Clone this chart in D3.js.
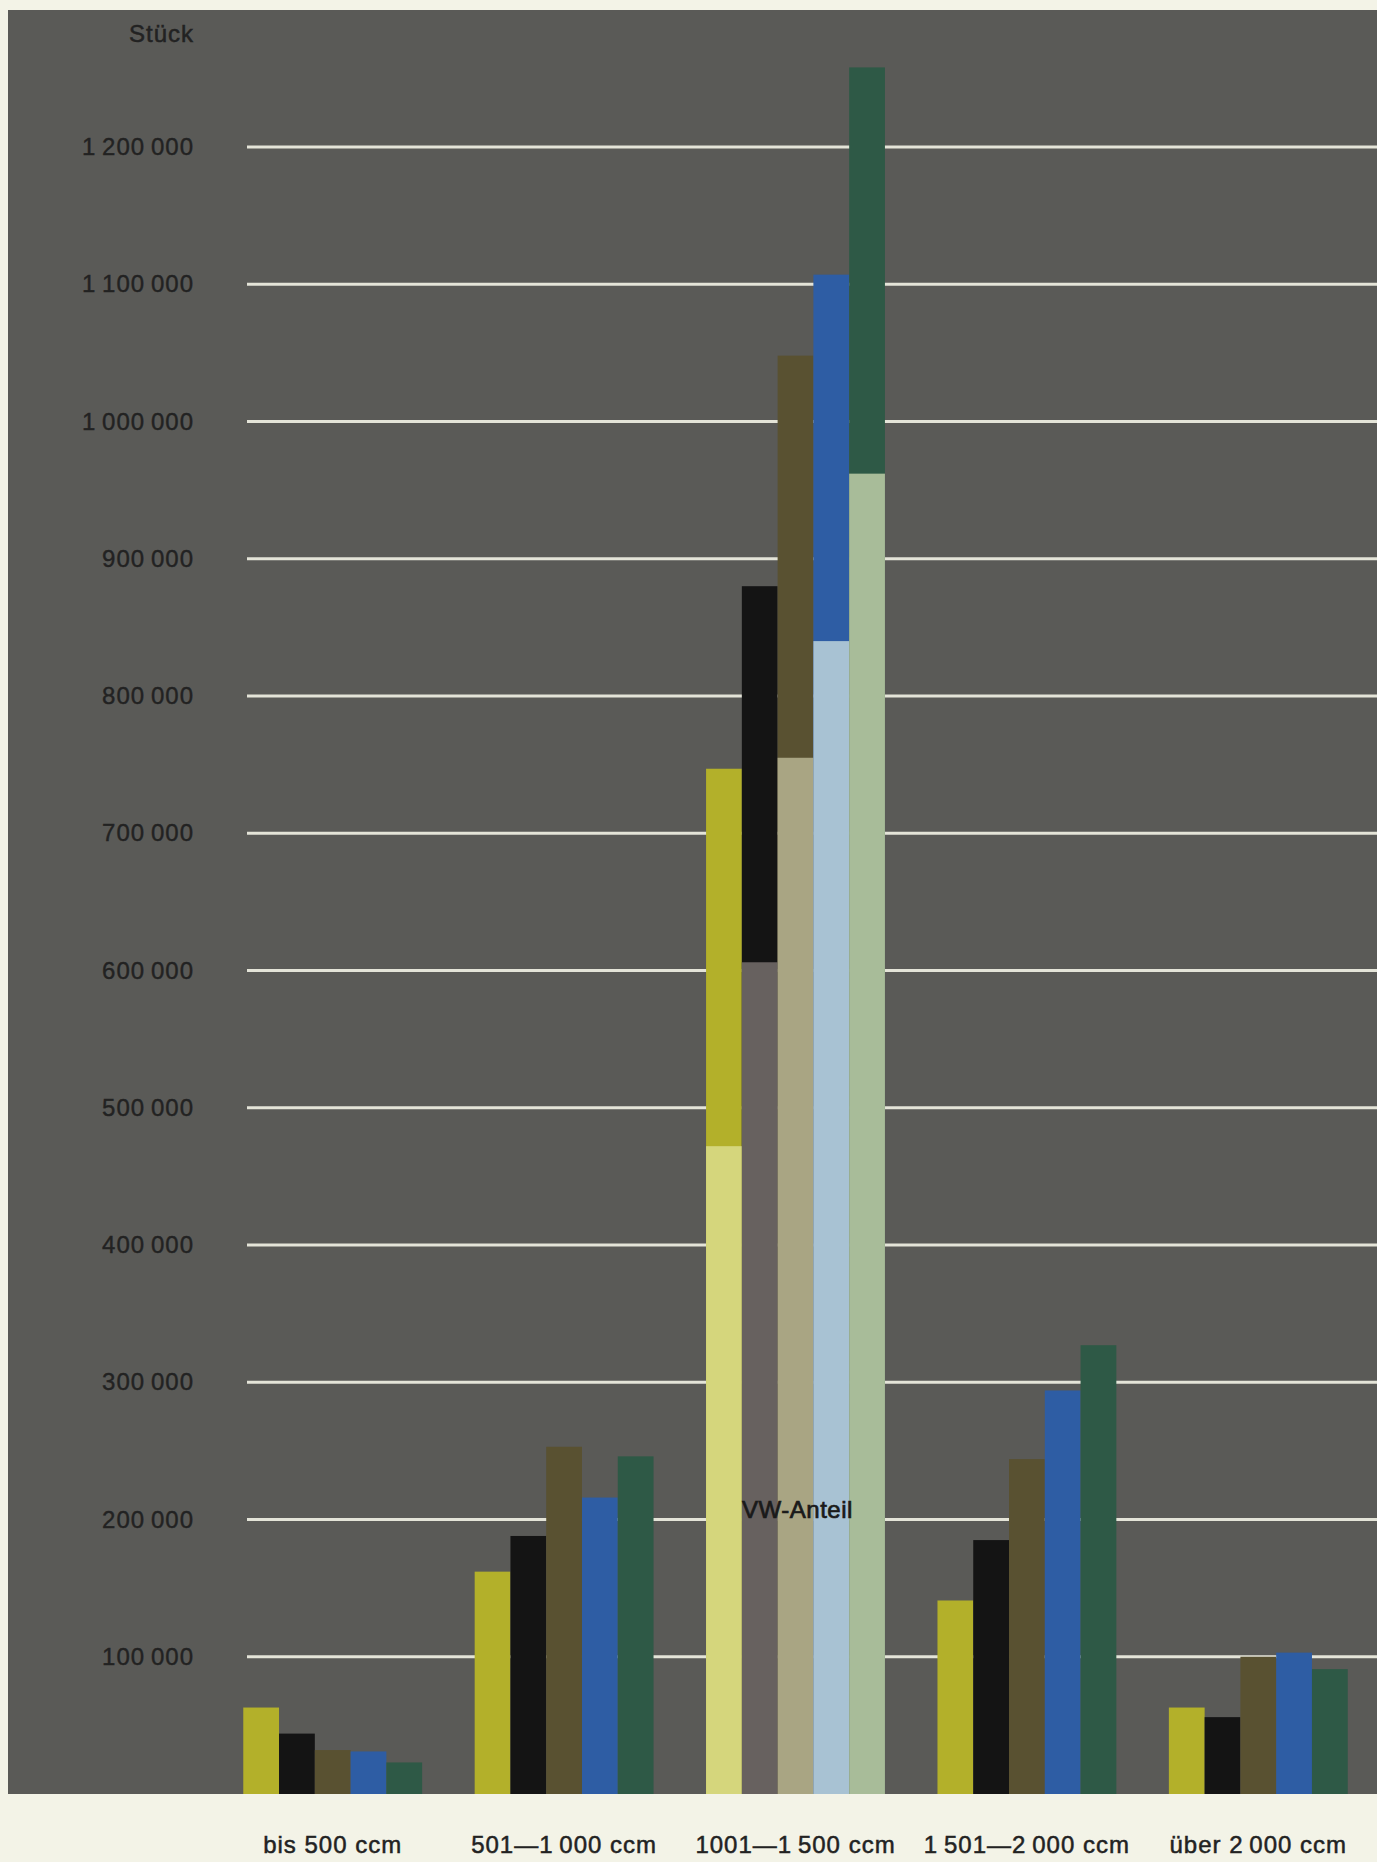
<!DOCTYPE html>
<html>
<head>
<meta charset="utf-8">
<script src="https://cdn.jsdelivr.net/npm/d3@7"></script>
<style>
  body { margin: 0; background: #f3f3e7; }
  text { font-family: "Liberation Sans", Arial, sans-serif; }
</style>
</head>
<body>
<div id="chart"></div>
<script>
// Hubraumklassen
const categories = ["bis 500 ccm", "501\u20141\u2009000 ccm", "1001\u20141\u2009500 ccm", "1\u2009501\u20142\u2009000 ccm", "über 2\u2009000 ccm"];
const seriesNames = ["s1", "s2", "s3", "s4", "s5"];

// Stück pro Klasse, je Reihe
const s1 = [63000, 162000, 747000, 141000, 63000];
const s2 = [44000, 188000, 880000, 185000, 56000];
const s3 = [32000, 253000, 1048000, 244000, 100000];
const s4 = [31000, 216000, 1107000, 294000, 103000];
const s5 = [23000, 246000, 1258000, 327000, 91000];

// VW-Anteil in der Klasse 1001-1500 ccm
const vwCategory = "1001\u20141\u2009500 ccm";
const vwShare = [472000, 606000, 755000, 840000, 962000];

const yTicks = [100000, 200000, 300000, 400000, 500000, 600000, 700000, 800000, 900000, 1000000, 1100000, 1200000];

const colors = ["#b3b02a", "#141414", "#595131", "#2e5da4", "#2e5946"];
const vwColors = ["#d5d67c", "#67615f", "#a9a583", "#a8c2d3", "#a8bc99"];

const seriesValues = [s1, s2, s3, s4, s5];

const W = 1377, H = 1862;
const panel = { left: 8, top: 10, right: 1377, bottom: 1794 };

const svg = d3.select("#chart")
  .append("svg")
  .attr("width", W)
  .attr("height", H);

svg.append("rect")
  .attr("x", panel.left)
  .attr("y", panel.top)
  .attr("width", panel.right - panel.left)
  .attr("height", panel.bottom - panel.top)
  .attr("fill", "#5a5a57");

const x = d3.scaleBand()
  .domain(categories)
  .range([217, 1374])
  .paddingInner(0.227)
  .paddingOuter(0.1135);

const xs = d3.scaleBand()
  .domain(seriesNames)
  .range([0, x.bandwidth()]);

const y = d3.scaleLinear()
  .domain([0, 1200000])
  .range([panel.bottom, 147]);

const fmt = d3.formatLocale({ decimal: ",", thousands: "\u2009", grouping: [3], currency: ["", ""] }).format(",");

// gridlines
svg.append("g")
  .selectAll("line")
  .data(yTicks)
  .enter()
  .append("line")
  .attr("x1", 247)
  .attr("x2", W)
  .attr("y1", (d) => y(d))
  .attr("y2", (d) => y(d))
  .attr("stroke", "#e4e4d8")
  .attr("stroke-width", 3);

// y axis labels
const yAxis = d3.axisLeft(y).tickValues(yTicks).tickFormat(fmt).tickSize(0).tickPadding(0);
const yg = svg.append("g")
  .attr("transform", "translate(194,0)")
  .call(yAxis);
yg.select(".domain").remove();
yg.selectAll("text")
  .attr("fill", "#222")
  .attr("stroke", "#222")
  .attr("stroke-width", 0.4)
  .style("font-size", "24px")
  .style("letter-spacing", "1px")
  .style("font-family", "'Liberation Sans', Arial, sans-serif");

svg.append("text")
  .attr("x", 194)
  .attr("y", 42)
  .attr("text-anchor", "end")
  .attr("fill", "#222")
  .attr("stroke", "#222")
  .attr("stroke-width", 0.5)
  .style("font-size", "24px")
  .style("letter-spacing", "1px")
  .text("Stück");

// bars
const rows = [];
categories.forEach((c, i) => {
  seriesNames.forEach((s, j) => {
    rows.push({ cat: c, ser: s, j: j, value: seriesValues[j][i] });
  });
});

svg.append("g")
  .selectAll("rect")
  .data(rows)
  .enter()
  .append("rect")
  .attr("x", (d) => x(d.cat) + xs(d.ser))
  .attr("y", (d) => y(d.value))
  .attr("width", xs.bandwidth())
  .attr("height", (d) => y(0) - y(d.value))
  .attr("fill", (d) => colors[d.j]);

// VW-Anteil
svg.append("g")
  .selectAll("rect")
  .data(vwShare)
  .enter()
  .append("rect")
  .attr("x", (d, j) => x(vwCategory) + xs(seriesNames[j]))
  .attr("y", (d) => y(d))
  .attr("width", xs.bandwidth())
  .attr("height", (d) => y(0) - y(d))
  .attr("fill", (d, j) => vwColors[j]);

svg.append("text")
  .attr("x", x(vwCategory) + x.bandwidth() / 2 + 2)
  .attr("y", 1518)
  .attr("text-anchor", "middle")
  .attr("fill", "#1a1a1a")
  .attr("stroke", "#1a1a1a")
  .attr("stroke-width", 0.7)
  .style("font-size", "24px")
  .style("letter-spacing", "0.5px")
  .text("VW-Anteil");

// x labels
const xAxis = d3.axisBottom(x).tickSize(0).tickPadding(0);
const xg = svg.append("g")
  .attr("transform", "translate(0,1836)")
  .call(xAxis);
xg.select(".domain").remove();
xg.selectAll("text")
  .attr("fill", "#222")
  .attr("stroke", "#222")
  .attr("stroke-width", 0.5)
  .attr("dy", "0.7em")
  .style("font-size", "24px")
  .style("letter-spacing", "1px")
  .style("font-family", "'Liberation Sans', Arial, sans-serif");
</script>
</body>
</html>
